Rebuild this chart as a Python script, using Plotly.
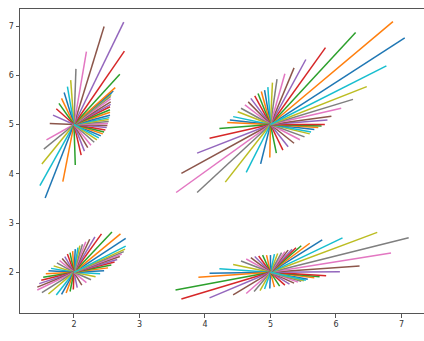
import plotly.graph_objects as go

# ---- data: cluster centres and ray end points ----
centers = [(2.0, 5.0), (5.0, 5.0), (2.0, 2.0), (5.0, 2.0)]

tl_x = [2.41, 2.44, 2.46, 2.48, 2.50, 2.51, 2.52, 2.53, 2.53, 2.54,
        2.55, 2.55, 2.55, 2.55, 2.56, 2.56, 2.56, 2.56, 2.57, 2.58,
        2.60, 2.63, 2.70, 2.77, 2.76, 2.46, 2.19, 2.03, 1.95, 1.90,
        1.85, 1.81, 1.77, 1.73, 1.68, 1.63, 1.58, 1.54, 1.51, 1.48,
        1.56, 1.83, 2.02, 2.11, 2.16, 2.21, 2.26, 2.31, 2.35, 2.38]
tl_y = [4.77, 4.81, 4.85, 4.89, 4.94, 4.98, 5.02, 5.06, 5.10, 5.14,
        5.19, 5.25, 5.30, 5.36, 5.41, 5.46, 5.52, 5.57, 5.61, 5.65,
        5.68, 5.75, 6.02, 6.49, 7.08, 6.99, 6.48, 6.13, 5.90, 5.77,
        5.65, 5.53, 5.43, 5.32, 5.19, 5.02, 4.69, 4.50, 4.20, 3.76,
        3.51, 3.84, 4.18, 4.38, 4.46, 4.53, 4.58, 4.64, 4.69, 4.73]

tr_x = [7.05, 6.87, 6.30, 5.84, 5.54, 5.36, 5.22, 5.10, 5.03, 4.96,
        4.91, 4.86, 4.81, 4.76, 4.70, 4.66, 4.61, 4.55, 4.50, 4.43,
        4.38, 4.34, 4.22, 4.07, 3.88, 3.64, 3.56, 3.88, 4.31, 4.63,
        4.85, 4.99, 5.09, 5.19, 5.27, 5.36, 5.45, 5.52, 5.60, 5.62,
        5.67, 5.73, 5.78, 5.83, 5.87, 5.93, 6.08, 6.26, 6.47, 6.77]
tr_y = [6.76, 7.09, 6.87, 6.56, 6.32, 6.15, 6.03, 5.92, 5.85, 5.76,
        5.70, 5.67, 5.63, 5.58, 5.53, 5.46, 5.40, 5.33, 5.26, 5.16,
        5.09, 5.04, 4.92, 4.72, 4.42, 4.01, 3.62, 3.62, 3.83, 4.03,
        4.20, 4.33, 4.42, 4.48, 4.55, 4.62, 4.69, 4.75, 4.81, 4.85,
        4.90, 4.94, 4.97, 5.00, 5.09, 5.17, 5.33, 5.51, 5.77, 6.19]

bl_x = [2.79, 2.71, 2.58, 2.42, 2.32, 2.24, 2.18, 2.13, 2.09, 2.06,
        2.02, 1.98, 1.94, 1.90, 1.86, 1.82, 1.78, 1.74, 1.69, 1.65,
        1.61, 1.57, 1.53, 1.50, 1.47, 1.44, 1.44, 1.51, 1.61, 1.73,
        1.81, 1.88, 1.94, 1.99, 2.05, 2.12, 2.19, 2.26, 2.33, 2.40,
        2.46, 2.52, 2.57, 2.62, 2.66, 2.70, 2.73, 2.76, 2.78, 2.79]
bl_y = [2.69, 2.78, 2.82, 2.78, 2.72, 2.67, 2.62, 2.57, 2.54, 2.50,
        2.47, 2.43, 2.40, 2.37, 2.32, 2.28, 2.24, 2.19, 2.13, 2.08,
        2.03, 1.97, 1.90, 1.84, 1.77, 1.70, 1.64, 1.59, 1.56, 1.54,
        1.55, 1.58, 1.61, 1.65, 1.69, 1.74, 1.79, 1.85, 1.91, 1.97,
        2.03, 2.09, 2.15, 2.21, 2.26, 2.32, 2.37, 2.42, 2.47, 2.53]

br_x = [5.57, 5.67, 5.75, 5.85, 6.06, 6.36, 6.84, 7.11, 6.63, 6.10,
        5.79, 5.60, 5.47, 5.39, 5.33, 5.27, 5.22, 5.17, 5.11, 5.06,
        5.00, 4.94, 4.88, 4.82, 4.76, 4.70, 4.63, 4.55, 4.43, 4.22,
        4.07, 3.90, 3.55, 3.64, 4.07, 4.43, 4.63, 4.75, 4.84, 4.91,
        4.99, 5.06, 5.14, 5.22, 5.29, 5.36, 5.42, 5.47, 5.51, 5.54]
br_y = [1.86, 1.89, 1.91, 1.93, 2.01, 2.13, 2.39, 2.70, 2.81, 2.70,
        2.66, 2.59, 2.54, 2.50, 2.47, 2.45, 2.42, 2.40, 2.38, 2.37,
        2.35, 2.35, 2.35, 2.33, 2.32, 2.30, 2.27, 2.23, 2.16, 2.07,
        1.98, 1.90, 1.64, 1.46, 1.48, 1.54, 1.57, 1.61, 1.63, 1.66,
        1.67, 1.70, 1.72, 1.74, 1.76, 1.78, 1.80, 1.82, 1.83, 1.84]

x_ticks = [2, 3, 4, 5, 6, 7]
y_ticks = [2, 3, 4, 5, 6, 7]

# ---- style ----
palette = ["#1f77b4", "#ff7f0e", "#2ca02c", "#d62728", "#9467bd",
           "#8c564b", "#e377c2", "#7f7f7f", "#bcbd22", "#17becf"]

clusters = [(centers[0], tl_x, tl_y), (centers[1], tr_x, tr_y),
            (centers[2], bl_x, bl_y), (centers[3], br_x, br_y)]

fig = go.Figure()
for (cx, cy), xs, ys in clusters:
    for i, (ex, ey) in enumerate(zip(xs, ys)):
        fig.add_trace(go.Scatter(
            x=[cx, ex], y=[cy, ey], mode="lines",
            line=dict(color=palette[i % 10], width=1.5),
            hoverinfo="skip", showlegend=False))

axis_common = dict(showgrid=False, zeroline=False, showline=True,
                   linecolor="#555555", linewidth=1, ticks="outside",
                   ticklen=3.5, tickwidth=1, tickcolor="#555555",
                   tickfont=dict(family="DejaVu Sans", size=8, color="#333333"))

fig.update_layout(
    width=424, height=341,
    margin=dict(l=20, r=0, t=9, b=28),
    paper_bgcolor="white", plot_bgcolor="white",
    xaxis=dict(range=[1.176, 7.344], tickvals=x_ticks, mirror=True, **axis_common),
    yaxis=dict(range=[1.174, 7.345], tickvals=y_ticks, **axis_common),
)

fig.write_html("out.html")
